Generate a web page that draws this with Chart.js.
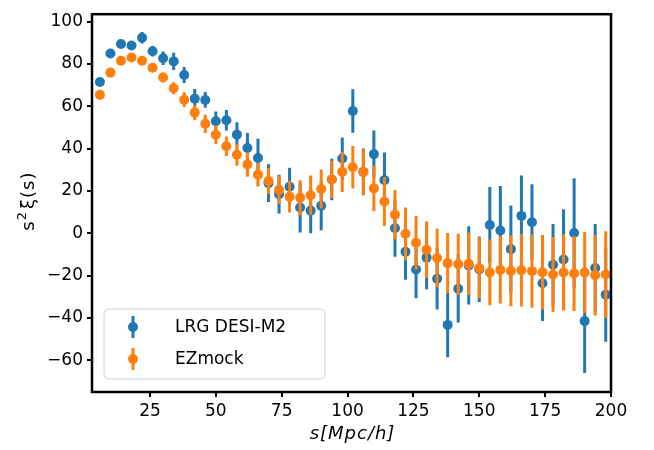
<!DOCTYPE html>
<html>
<head>
<meta charset="utf-8">
<script src="https://cdn.jsdelivr.net/npm/chart.js@4.4.0/dist/chart.umd.min.js"></script>
<style>
    html, body { margin: 0; padding: 0; background: #fff; }
    #wrap { width: 654px; height: 450px; position: relative; }
</style>
</head>
<body>
<div id="wrap"><canvas id="chart" width="654" height="450"></canvas></div>
<script>
// --- datos ---
const sValues = [6, 10, 14, 18, 22, 26, 30, 34, 38, 42, 46, 50, 54, 58, 62, 66,
    70, 74, 78, 82, 86, 90, 94, 98, 102, 106, 110, 114, 118,
    122, 126, 130, 134, 138, 142, 146, 150, 154, 158, 162, 166, 170, 174, 178, 182, 186, 190, 194, 198];

const lrgValues = [71.5, 84.9, 89.4, 88.7, 92.4, 86.0, 82.7, 81.2, 74.8, 63.6, 63.0, 52.9, 53.4, 46.6, 40.3, 35.6,
    23.7, 18.5, 22.0, 12.2, 10.7, 13.0, 25.4, 35.3, 57.8, 29.0, 37.4, 25.1, 2.4,
    -8.7, -17.1, -11.5, -21.5, -43.3, -26.2, -15.2, -17.0, 3.9, 1.3, -7.5, 8.2, 5.2, -23.6, -14.9, -12.4, 0.1, -41.5, -16.4, -29.0];
const lrgErrors = [1.5, 1.5, 1.8, 2.0, 2.7, 2.5, 3.2, 4.1, 3.8, 4.6, 3.7, 4.6, 4.8, 5.9, 7.1, 9.0,
    8.9, 9.2, 9.0, 11.8, 10.7, 11.6, 9.8, 10.0, 10.3, 11.0, 11.2, 13.0, 13.5,
    13.3, 13.6, 15.0, 14.5, 15.3, 16.0, 18.5, 15.5, 17.9, 21.0, 20.6, 19.1, 18.0, 17.9, 19.3, 23.7, 25.9, 24.5, 20.8, 22.2];

const ezValues = [65.4, 75.9, 81.5, 83.0, 81.5, 78.2, 73.6, 68.5, 63.1, 57.0, 51.7, 46.6, 41.1, 37.1, 32.5, 27.7,
    24.7, 20.5, 17.3, 16.8, 18.0, 20.9, 25.4, 29.0, 31.2, 28.9, 21.2, 15.0, 8.8,
    -0.2, -4.5, -7.8, -11.7, -14.1, -14.6, -14.4, -16.4, -18.5, -17.3, -17.8, -17.5, -17.9, -18.4, -19.5, -18.5, -19.0, -18.5, -19.8, -19.5];
const ezErrors = [1.0, 1.0, 1.1, 1.2, 1.5, 1.8, 2.4, 2.8, 3.5, 3.6, 4.3, 4.4, 4.6, 5.2, 5.8, 5.6,
    6.1, 6.7, 7.5, 8.3, 9.3, 9.2, 8.7, 9.5, 10.0, 10.7, 10.7, 11.6, 11.6,
    12.4, 12.7, 13.3, 13.8, 14.2, 14.4, 14.8, 14.4, 15.5, 15.9, 16.7, 17.1, 17.3, 17.6, 17.7, 18.0, 17.7, 19.1, 19.0, 20.5];

const xTicks = [25, 50, 75, 100, 125, 150, 175, 200];
const yTicks = [-60, -40, -20, 0, 20, 40, 60, 80, 100];

const BLUE = '#1f77b4';
const ORANGE = '#ff7f0e';
const FONT = "'DejaVu Sans', sans-serif";

const toPoints = (vals, errs) => sValues.map((s, i) => ({ x: s, y: vals[i], err: errs[i] }));
const minus = v => v < 0 ? '\u2212' + Math.abs(v) : String(v);

// barras de error, dibujadas justo antes de los puntos de cada serie
const errorBars = {
    id: 'errorBars',
    beforeDatasetDraw(chart, args) {
        const ds = chart.data.datasets[args.index];
        const { ctx, chartArea: a, scales: { x, y } } = chart;
        ctx.save();
        ctx.beginPath();
        ctx.rect(a.left, a.top, a.right - a.left, a.bottom - a.top);
        ctx.clip();
        ctx.strokeStyle = ds.backgroundColor;
        ctx.lineWidth = 3;
        ds.data.forEach(p => {
            const px = x.getPixelForValue(p.x);
            ctx.beginPath();
            ctx.moveTo(px, y.getPixelForValue(p.y - p.err));
            ctx.lineTo(px, y.getPixelForValue(p.y + p.err));
            ctx.stroke();
        });
        ctx.restore();
    }
};

// marco, titulos de ejes y leyenda estilo matplotlib
const decor = {
    id: 'decor',
    afterDraw(chart) {
        const { ctx, chartArea: a } = chart;
        ctx.save();
        ctx.strokeStyle = '#000';
        ctx.lineWidth = 2.5;
        ctx.strokeRect(a.left, a.top, a.right - a.left, a.bottom - a.top);

        // titulo eje x (italica)
        ctx.fillStyle = '#000';
        ctx.textAlign = 'center';
        ctx.textBaseline = 'middle';
        ctx.font = 'italic 18px ' + FONT;
        ctx.letterSpacing = '1px';
        ctx.fillText('s[Mpc/h]', (a.left + a.right) / 2 + 1, 434);
        ctx.letterSpacing = '0px';

        // titulo eje y: s² ξ(s)
        ctx.save();
        ctx.translate(28, (a.top + a.bottom) / 2);
        ctx.rotate(-Math.PI / 2);
        ctx.textAlign = 'left';
        ctx.textBaseline = 'alphabetic';
        const big = '18px ' + FONT, small = '13px ' + FONT;
        ctx.font = big;
        const w1 = ctx.measureText('s').width;
        const w3 = ctx.measureText('\u03BE(s)').width;
        ctx.font = small;
        const w2 = ctx.measureText('2').width;
        const gap = 2;
        const total = w1 + w2 + w3 + 2 * gap;
        let cx = -total / 2;
        const base = 6;
        ctx.font = big;
        ctx.fillText('s', cx, base);
        cx += w1 + gap / 2;
        ctx.font = small;
        ctx.fillText('2', cx, base - 8);
        cx += w2 + gap * 1.5;
        ctx.font = big;
        ctx.letterSpacing = '1px';
        ctx.fillText('\u03BE(s)', cx, base);
        ctx.letterSpacing = '0px';
        ctx.restore();

        // leyenda
        const bx = 104, by = 309, bw = 221, bh = 70;
        ctx.beginPath();
        ctx.roundRect(bx, by, bw, bh, 4);
        ctx.fillStyle = 'rgba(255,255,255,0.8)';
        ctx.fill();
        ctx.strokeStyle = '#d0d0d0';
        ctx.lineWidth = 1;
        ctx.stroke();

        const rows = [
            { label: chart.data.datasets[0].label, color: BLUE, yy: 327 },
            { label: chart.data.datasets[1].label, color: ORANGE, yy: 359 }
        ];
        rows.forEach(r => {
            ctx.strokeStyle = r.color;
            ctx.lineWidth = 3;
            ctx.beginPath();
            ctx.moveTo(133, r.yy - 11);
            ctx.lineTo(133, r.yy + 11);
            ctx.stroke();
            ctx.fillStyle = r.color;
            ctx.beginPath();
            ctx.arc(133, r.yy, 5, 0, Math.PI * 2);
            ctx.fill();
            ctx.fillStyle = '#000';
            ctx.textAlign = 'left';
            ctx.textBaseline = 'middle';
            ctx.font = '17px ' + FONT;
            ctx.fillText(r.label, 175, r.yy + 1);
        });
        ctx.restore();
    }
};

const axisCommon = {
    grid: { drawOnChartArea: false, drawTicks: true, tickLength: 5, color: '#000', lineWidth: 2 },
    border: { display: false },
    ticks: { color: '#000', font: { family: FONT, size: 17 }, padding: 4 }
};

new Chart(document.getElementById('chart'), {
    type: 'scatter',
    data: {
        datasets: [
            {
                label: 'LRG DESI-M2',
                data: toPoints(lrgValues, lrgErrors),
                backgroundColor: BLUE,
                pointRadius: 5,
                pointBorderWidth: 0,
                order: 1
            },
            {
                label: 'EZmock',
                data: toPoints(ezValues, ezErrors),
                backgroundColor: ORANGE,
                pointRadius: 5,
                pointBorderWidth: 0,
                order: 0
            }
        ]
    },
    options: {
        responsive: false,
        animation: false,
        events: [],
        layout: { padding: { top: 3, right: 43, left: 0, bottom: 0 } },
        plugins: { legend: { display: false }, tooltip: { enabled: false } },
        scales: {
            x: {
                ...axisCommon,
                type: 'linear',
                min: 3,
                max: 200,
                afterFit: s => { s.height = 58; },
                afterBuildTicks: s => { s.ticks = xTicks.map(v => ({ value: v })); },
                ticks: { ...axisCommon.ticks, callback: v => minus(v) }
            },
            y: {
                ...axisCommon,
                type: 'linear',
                min: -75,
                max: 103.5,
                afterFit: s => { s.width = 92; },
                afterBuildTicks: s => { s.ticks = yTicks.map(v => ({ value: v })); },
                ticks: { ...axisCommon.ticks, callback: v => minus(v) }
            }
        }
    },
    plugins: [errorBars, decor]
});
</script>
</body>
</html>
